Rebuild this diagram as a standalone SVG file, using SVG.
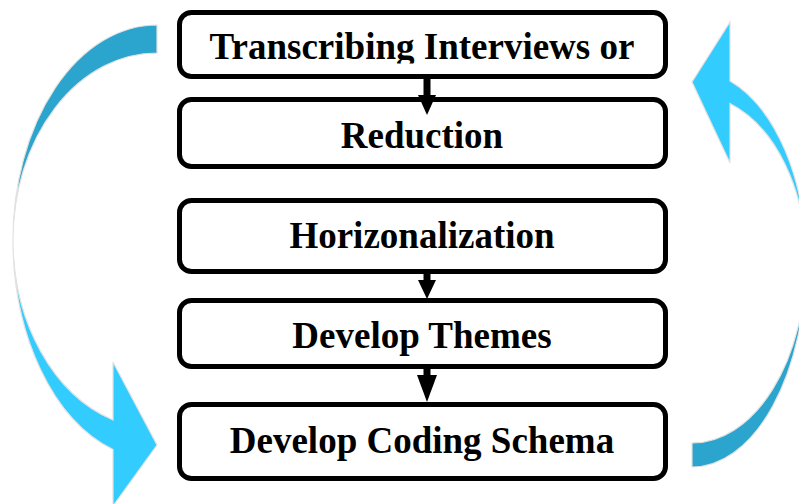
<svg xmlns="http://www.w3.org/2000/svg" width="799" height="504" viewBox="0 0 799 504">
<style>
.box{fill:#fff;stroke:#000;stroke-width:5}
.lbl{font-family:"Liberation Serif","Times New Roman",serif;font-weight:bold;font-size:37px;fill:#000;text-anchor:middle}
.dark{fill:#2BA5CD;stroke:#E2E2E2;stroke-width:1.2}
.light{fill:#33CCFF;stroke:#E2E2E2;stroke-width:1.2}
.shaft{stroke:#000;stroke-width:7}
</style>
<defs>
<clipPath id="clip1"><rect x="180" y="14" width="484" height="49.5"/></clipPath>
</defs>
<rect width="799" height="504" fill="#fff"/>
<g id="loop-left">
<path class="dark" d="M157,25 A144,215 0 0 0 13,240 A144,187 0 0 1 157,53 Z"/>
<path class="light" d="M13,240 A144,220 0 0 0 113,449.5 L113,506 L157,445 L113,362 L113,420 A144,189 0 0 1 13,240 Z"/>
</g>
<g id="loop-right">
<path class="dark" d="M806,260 A114,207 0 0 1 692,467 L692,443 A114,183 0 0 0 806,260 Z"/>
<path class="light" d="M806,260 A114,190 0 0 0 730,81 L730,22 L692,82 L730,163 L730,103.5 A114,166 0 0 1 806,260 Z"/>
</g>
<g id="node-transcribing">
<rect class="box" x="179.5" y="12.5" width="486" height="64" rx="12"/>
<text class="lbl" x="422" y="59" clip-path="url(#clip1)">Transcribing Interviews or</text>
</g>
<g id="node-reduction">
<rect class="box" x="179.5" y="99.5" width="486" height="67" rx="12"/>
<text class="lbl" x="422" y="148">Reduction</text>
</g>
<g id="node-horizonalization">
<rect class="box" x="179.5" y="200.5" width="486" height="71" rx="12"/>
<text class="lbl" x="422" y="248">Horizonalization</text>
</g>
<g id="node-themes">
<rect class="box" x="179.5" y="300.5" width="486" height="66" rx="12"/>
<text class="lbl" x="422" y="348">Develop Themes</text>
</g>
<g id="node-coding">
<rect class="box" x="179.5" y="404.5" width="486" height="74" rx="12"/>
<text class="lbl" x="422" y="453">Develop Coding Schema</text>
</g>
<g id="connectors">
<line class="shaft" x1="427" y1="78" x2="427" y2="96"/>
<polygon points="418,95 436,95 427,115"/>
<line class="shaft" x1="427" y1="273" x2="427" y2="281"/>
<polygon points="418,280 436,280 427,299"/>
<line class="shaft" x1="427" y1="368" x2="427" y2="376"/>
<polygon points="417,375 437,375 427,402"/>
</g>
</svg>
